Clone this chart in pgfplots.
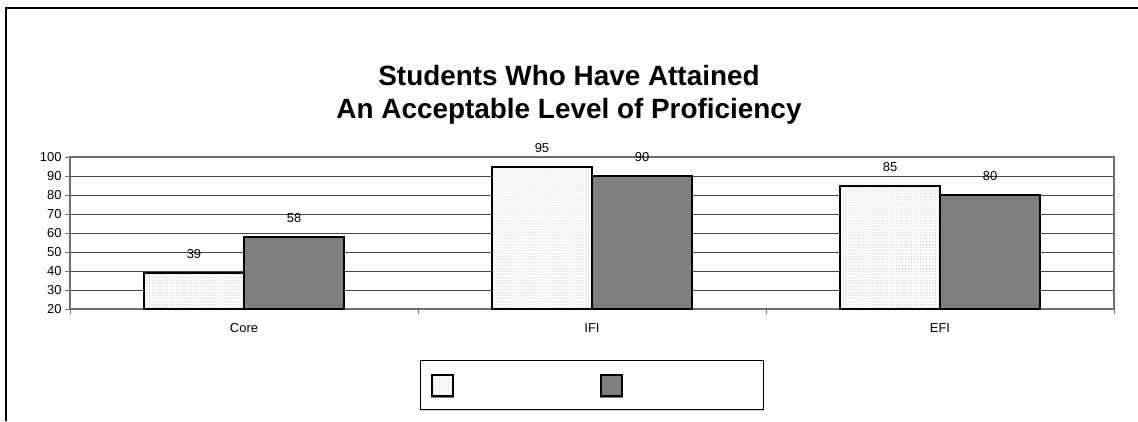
\documentclass[border=0pt]{standalone}
\usepackage{fontspec}
\setmainfont{Liberation Sans}
\usepackage{pgfplots}
\pgfplotsset{compat=1.18}
\usetikzlibrary{patterns,shadows}
\definecolor{darkbar}{RGB}{126,126,126}
\definecolor{lightbar}{RGB}{250,250,250}
\definecolor{axgray}{RGB}{110,110,110}
\definecolor{gridc}{RGB}{70,70,70}
\begin{document}
\begin{tikzpicture}[x=1bp,y=1bp]
\useasboundingbox (0,0) rectangle (1138,421);
% page frame
\draw[line width=2.5bp] (6,0) -- (6,413) -- (1138,413);
% title
\node[font=\fontsize{28}{28}\selectfont\bfseries, anchor=base] at (569,336) {Students Who Have Attained};
\node[font=\fontsize{28}{28}\selectfont\bfseries, anchor=base] at (569,303) {An Acceptable Level of Proficiency};
\begin{axis}[
  at={(70bp,112bp)}, anchor=south west,
  scale only axis, width=1044bp, height=152bp,
  xmin=0, xmax=3, ymin=20, ymax=100,
  ytick={20,30,...,100},
  xtick={0.5,1.5,2.5}, xticklabels={Core,IFI,EFI},
  xtick style={draw=none},
  extra x ticks={0,1,2,3}, extra x tick labels={},
  extra x tick style={grid=none, xtick style={draw=axgray, line width=1bp}},
  ymajorgrids, grid style={draw=gridc, line width=1bp},
  tick align=outside, tick pos=left, major tick length=5bp,
  ytick style={draw=axgray, line width=1bp},
  axis line style={draw=axgray, line width=1.5bp},
  ticklabel style={font=\fontsize{13}{13}\selectfont},
  x tick label style={yshift=-6bp},
  /pgf/number format/assume math mode=true,
  ybar, bar width=0.2874, bar shift=0,
  nodes near coords,
  every node near coord/.append style={font=\fontsize{13}{13}\selectfont, inner sep=0pt, yshift=13bp, anchor=south},
  legend columns=2,
  legend style={at={(0.5,-0.503)}, anchor=center, draw=black, line width=1bp,
     inner xsep=10bp, inner ysep=13bp, nodes={inner sep=0pt},
     drop shadow={shadow xshift=0.8bp, shadow yshift=-1.5bp, fill=gray!70},
     fill=white,
     /tikz/every even column/.append style={column sep=0bp}},
  legend image code/.code={\draw[#1,/tikz/.cd,line width=2bp] (0bp,-10.5bp) rectangle (21bp,10.5bp);},
]
\addplot[fill=lightbar, draw=black, line width=2bp,
  postaction={pattern=dots, pattern color=gray!45}] coordinates {(0.3563,39) (1.3563,95) (2.3563,85)};
\addplot[fill=darkbar, draw=black, line width=2bp] coordinates {(0.6437,58) (1.6437,90) (2.6437,80)};
\legend{\hspace*{146bp}, \hspace*{131bp}}
\end{axis}
\end{tikzpicture}
\end{document}
